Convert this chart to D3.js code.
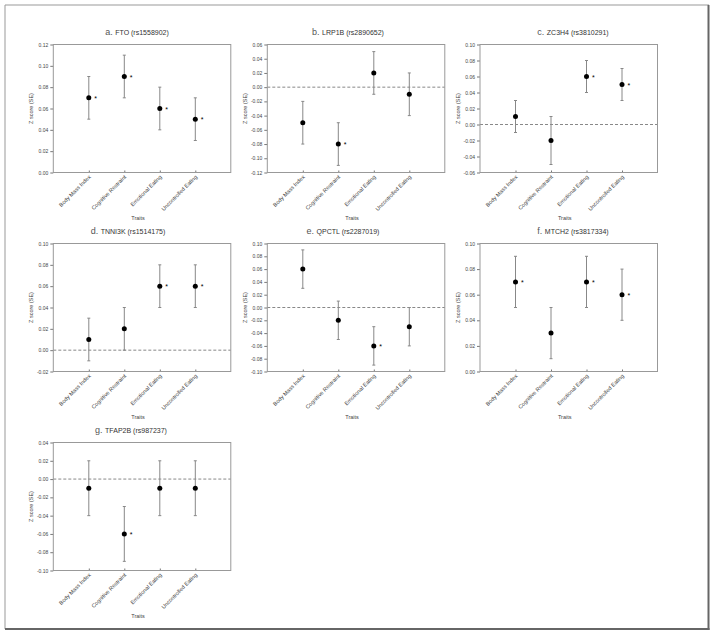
<!DOCTYPE html>
<meta charset="utf-8">
<script src="https://cdn.jsdelivr.net/npm/d3@7"></script>
<style>
    body { margin: 0; background: #fff; }
    text { font-family: "Liberation Sans", Arial, sans-serif; }
    .tick text { font-size: 5px; fill: #444; }
    .tick line { stroke: #777; }
    .chart { opacity: 0.999; }
</style>
<body>
<svg class="chart"></svg>
<script>
    ///////////////////////
    // Data
    var traits = ["Body Mass Index", "Cognitive Restraint", "Emotional Eating", "Uncontrolled Eating"];

    var letters = ["a.", "b.", "c.", "d.", "e.", "f.", "g."];
    var titles = ["FTO (rs1558902)", "LRP1B (rs2890652)", "ZC3H4 (rs3810291)", "TNNI3K (rs1514175)",
                  "QPCTL (rs2287019)", "MTCH2 (rs3817334)", "TFAP2B (rs987237)"];

    // z score per trait, per gene
    var zMeans = [
        [0.07, 0.09, 0.06, 0.05],
        [-0.05, -0.08, 0.02, -0.01],
        [0.01, -0.02, 0.06, 0.05],
        [0.01, 0.02, 0.06, 0.06],
        [0.06, -0.02, -0.06, -0.03],
        [0.07, 0.03, 0.07, 0.06],
        [-0.01, -0.06, -0.01, -0.01]
    ];
    var zSE = [
        [0.02, 0.02, 0.02, 0.02],
        [0.03, 0.03, 0.03, 0.03],
        [0.02, 0.03, 0.02, 0.02],
        [0.02, 0.02, 0.02, 0.02],
        [0.03, 0.03, 0.03, 0.03],
        [0.02, 0.02, 0.02, 0.02],
        [0.03, 0.03, 0.03, 0.03]
    ];
    var significant = [
        [1, 1, 1, 1],
        [0, 1, 0, 0],
        [0, 0, 1, 1],
        [0, 0, 1, 1],
        [0, 0, 1, 0],
        [1, 0, 1, 1],
        [0, 1, 0, 0]
    ];
    var yMin = [0.00, -0.12, -0.06, -0.02, -0.10, 0.00, -0.10];
    var yMax = [0.12, 0.06, 0.10, 0.10, 0.10, 0.10, 0.04];
    var yStep = 0.02;

    ///////////////////////
    // Layout
    var colLeft = [53.3, 267.3, 480];
    var rowTop = [44.5, 243.5, 442.5];
    var plotW = 177.5, plotH = 128;
    var titleX = [137, 348, 573, 128, 343, 573, 131];

    var svg = d3.select(".chart")
        .attr("width", 714)
        .attr("height", 635);

    svg.append("rect").attr("width", 714).attr("height", 635).attr("fill", "#fff");

    // outer frame
    svg.append("line").attr("x1", 5).attr("y1", 5).attr("x2", 5).attr("y2", 629)
        .attr("stroke", "#999").attr("stroke-width", 1);
    svg.append("line").attr("x1", 5).attr("y1", 5).attr("x2", 709).attr("y2", 5)
        .attr("stroke", "#999").attr("stroke-width", 1);
    svg.append("line").attr("x1", 708.5).attr("y1", 5).attr("x2", 708.5).attr("y2", 630)
        .attr("stroke", "#666").attr("stroke-width", 2);
    svg.append("line").attr("x1", 5).attr("y1", 629).attr("x2", 709.5).attr("y2", 629)
        .attr("stroke", "#666").attr("stroke-width", 2);

    titles.forEach(function(title, p) {
        var left = colLeft[p % 3];
        var top = rowTop[Math.floor(p / 3)];

        var g = svg.append("g")
            .attr("transform", "translate(" + left + "," + top + ")");

        var x = d3.scaleLinear().domain([0, 5]).range([0, plotW]);
        var y = d3.scaleLinear().domain([yMin[p], yMax[p]]).range([plotH, 0]);

        var nTicks = Math.round((yMax[p] - yMin[p]) / yStep);
        var yTicks = d3.range(nTicks + 1).map(function(i) {
            return +(yMin[p] + i * yStep).toFixed(2);
        });

        // y axis
        var yAxis = g.append("g")
            .call(d3.axisLeft(y)
                .tickValues(yTicks)
                .tickSize(3)
                .tickPadding(2)
                .tickFormat(function(d) { return d.toFixed(2); }));
        yAxis.select(".domain").remove();

        // x axis (ticks inward)
        var xAxis = g.append("g")
            .attr("transform", "translate(0," + plotH + ")")
            .call(d3.axisBottom(x)
                .tickValues([1, 2, 3, 4])
                .tickSize(-2)
                .tickPadding(4)
                .tickFormat(function(d) { return traits[d - 1]; }));
        xAxis.select(".domain").remove();
        xAxis.selectAll("text")
            .style("font-size", "5.5px")
            .attr("text-anchor", "end")
            .attr("dy", 0)
            .attr("transform", "translate(-1,2) rotate(-45)");

        // zero reference line
        if (yMin[p] < 0) {
            g.append("line")
                .attr("x1", 0).attr("x2", plotW)
                .attr("y1", y(0)).attr("y2", y(0))
                .attr("stroke", "#888")
                .attr("stroke-width", 1)
                .attr("stroke-dasharray", "3,2");
        }

        // plot frame
        g.append("rect")
            .attr("width", plotW)
            .attr("height", plotH)
            .attr("fill", "none")
            .attr("stroke", "#999")
            .attr("stroke-width", 1);

        var rows = zMeans[p].map(function(m, i) {
            return { i: i + 1, mean: m, se: zSE[p][i], sig: significant[p][i] };
        });

        // error bars
        var bars = g.append("g").selectAll("g")
            .data(rows)
            .enter().append("g")
            .attr("stroke", "#888")
            .attr("stroke-width", 1);
        bars.append("line")
            .attr("x1", function(d) { return x(d.i); })
            .attr("x2", function(d) { return x(d.i); })
            .attr("y1", function(d) { return y(d.mean - d.se); })
            .attr("y2", function(d) { return y(d.mean + d.se); });
        bars.append("line")
            .attr("x1", function(d) { return x(d.i) - 1.5; })
            .attr("x2", function(d) { return x(d.i) + 1.5; })
            .attr("y1", function(d) { return y(d.mean + d.se); })
            .attr("y2", function(d) { return y(d.mean + d.se); });
        bars.append("line")
            .attr("x1", function(d) { return x(d.i) - 1.5; })
            .attr("x2", function(d) { return x(d.i) + 1.5; })
            .attr("y1", function(d) { return y(d.mean - d.se); })
            .attr("y2", function(d) { return y(d.mean - d.se); });

        // points
        g.append("g").selectAll("circle")
            .data(rows)
            .enter().append("circle")
            .attr("cx", function(d) { return x(d.i); })
            .attr("cy", function(d) { return y(d.mean); })
            .attr("r", 2.5)
            .attr("fill", "#000");

        // significance stars
        g.append("g").selectAll("text")
            .data(rows.filter(function(d) { return d.sig; }))
            .enter().append("text")
            .attr("x", function(d) { return x(d.i) + 5.5; })
            .attr("y", function(d) { return y(d.mean) + 3; })
            .style("font-size", "7px")
            .attr("fill", "#000")
            .text("*");

        // title
        var t = svg.append("text")
            .attr("x", titleX[p])
            .attr("y", top - 10)
            .attr("text-anchor", "middle")
            .attr("fill", "#333")
            .style("font-size", "7px");
        t.append("tspan").style("font-size", "9px").attr("fill", "#555").text(letters[p] + " ");
        t.append("tspan").text(title);

        // axis labels
        g.append("text")
            .attr("transform", "translate(-20," + plotH / 2 + ") rotate(-90)")
            .attr("text-anchor", "middle")
            .attr("fill", "#444")
            .style("font-size", "5.5px")
            .text("Z score (SE)");

        g.append("text")
            .attr("x", plotW / 2 - 4)
            .attr("y", plotH + 47)
            .attr("text-anchor", "middle")
            .attr("fill", "#444")
            .style("font-size", "5.5px")
            .text("Traits");
    });
</script>
</body>
